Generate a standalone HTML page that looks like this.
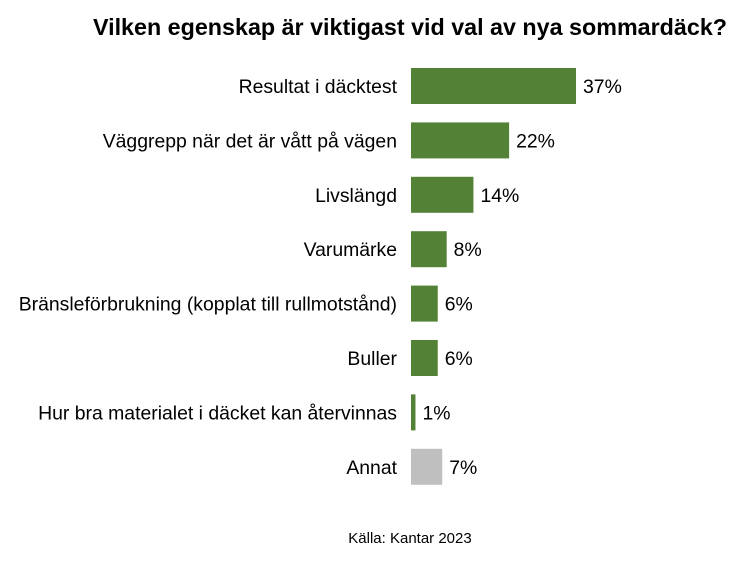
<!DOCTYPE html>
<html><head><meta charset="utf-8">
<style>
html,body{margin:0;padding:0;background:#fff;}
body{width:746px;height:559px;overflow:hidden;font-family:"Liberation Sans",Arial,sans-serif;}
</style></head>
<body>
<svg id="chart" width="746" height="559" xmlns="http://www.w3.org/2000/svg">
<text x="410" y="35" text-anchor="middle" font-size="23" font-weight="bold" fill="#000" textLength="634" lengthAdjust="spacingAndGlyphs">Vilken egenskap är viktigast vid val av nya sommardäck?</text>
<g id="bars"></g>
<text x="410" y="543" text-anchor="middle" font-size="15" fill="#000">Källa: Kantar 2023</text>
</svg>
<script>
const categories=["Resultat i däcktest","Väggrepp när det är vått på vägen","Livslängd","Varumärke","Bränsleförbrukning (kopplat till rullmotstånd)","Buller","Hur bra materialet i däcket kan återvinnas","Annat"];
const values=[37,22,14,8,6,6,1,7];
const valueLabels=["37%","22%","14%","8%","6%","6%","1%","7%"];
const x0=411, pxPer=4.46, y0=86, step=54.4, bh=36;
const xScale=v=>x0+v*pxPer;
const yScale=i=>y0+i*step;
const g=document.getElementById('bars');
const NS="http://www.w3.org/2000/svg";
categories.forEach((c,i)=>{
  const cy=yScale(i);
  const r=document.createElementNS(NS,'rect');
  
  
  r.setAttribute('x',x0);r.setAttribute('y',cy-bh/2);
  r.setAttribute('width',xScale(values[i])-x0);r.setAttribute('height',bh);
  r.setAttribute('fill',c==="Annat"?"#bfbfbf":"#538135");
  g.appendChild(r);
  const t=document.createElementNS(NS,'text');
  
  
  t.setAttribute('x',397);t.setAttribute('y',cy+7);
  t.setAttribute('text-anchor','end');t.setAttribute('font-size','19.4');
  t.textContent=c;g.appendChild(t);
  const v=document.createElementNS(NS,'text');
  
  
  v.setAttribute('x',xScale(values[i])+7);v.setAttribute('y',cy+7);
  v.setAttribute('font-size','19.4');
  v.textContent=valueLabels[i];g.appendChild(v);
});
</script>
</body></html>
